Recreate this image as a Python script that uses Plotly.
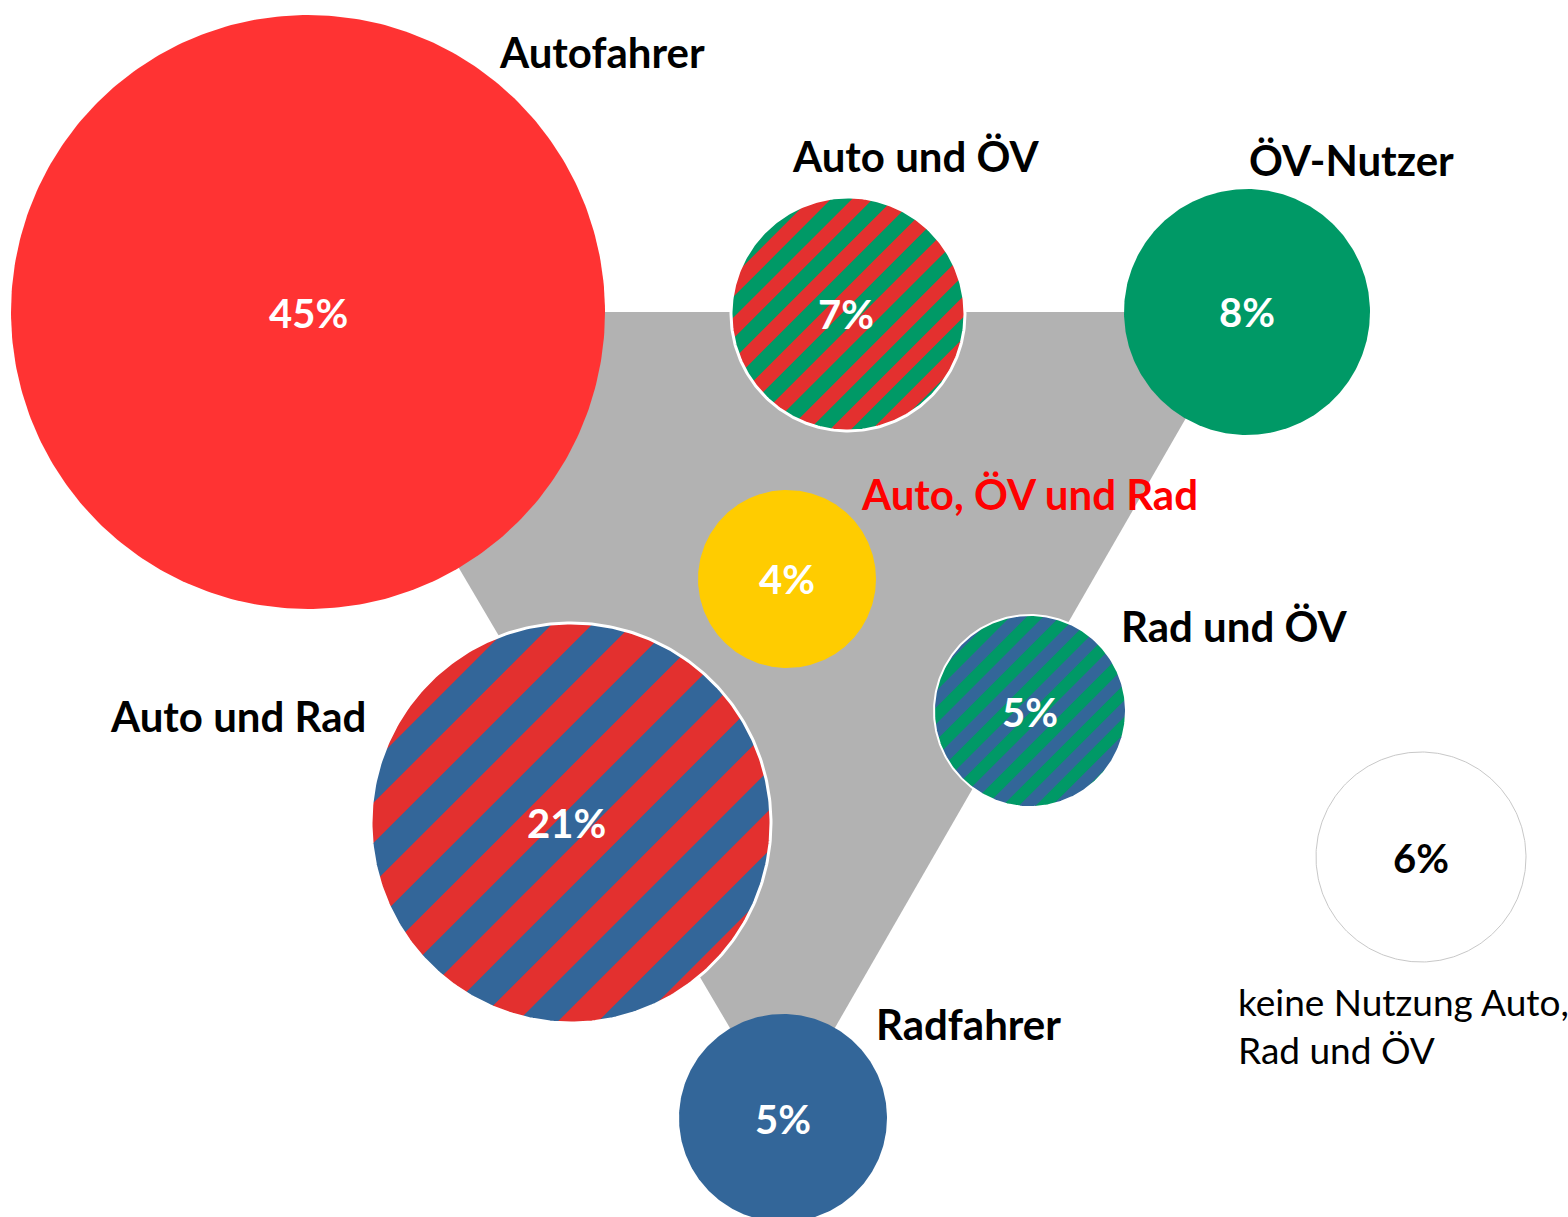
import numpy as np
import plotly.graph_objects as go

# ---------------- data ----------------
categories = ["Autofahrer", "ÖV-Nutzer", "Radfahrer", "Auto und ÖV",
              "Auto und Rad", "Rad und ÖV", "Auto, ÖV und Rad",
              "keine Nutzung Auto,<br>Rad und ÖV"]
values = [45, 8, 5, 7, 21, 5, 4, 6]
pct_labels = [f"{v}%" for v in values]

# ---------------- layout (pixel space) ----------------
W, H = 1568, 1217
cx = [308, 1247, 783, 848, 571, 1030, 787, 1421]
cy = [312, 312, 1118, 314, 823, 711, 579, 857]
radii = [297, 123, 104, 117, 200, 96, 89, 105]
base_colors = ["#FF3333", "#009966", "#336699", "#009966",
               "#336699", "#336699", "#FFCC00", "#FFFFFF"]
stripe_colors = [None, None, None, "#E3302F", "#E3302F", "#009966", None, None]
stripe_periods = [None, None, None, 29.5, 57, 23.3, None, None]
stripe_phase = [0, 0, 0, 10, 17, 1, 0, 0]
outline = [None, None, None, "#FFFFFF", "#FFFFFF", "#FFFFFF", None, "#C8C8C8"]
outline_w = [0, 0, 0, 3, 3, 2, 0, 1]
pct_colors = ["white"] * 7 + ["black"]
pct_dx = [0, 0, 0, -2, -5, 0, 0, 0]
pct_dy = [1, 0, 1, 0, 0, 1, 0, 1]

label_x = [602, 1351, 968, 916, 238, 1234, 1029, 1236]
label_y = [52, 160, 1024, 156, 716, 626, 494, 1025]
label_colors = ["black", "black", "black", "black", "black", "black", "#FF0000", "black"]
label_anchor = ["center"] * 7 + ["left"]
label_bold = [True] * 7 + [False]

FONT = "Lato"

fig = go.Figure()

# triangle connecting the three single-mode circles
tri_x = [cx[0], cx[1], cx[2], cx[0]]
tri_y = [cy[0], cy[1], cy[2], cy[0]]
fig.add_trace(go.Scatter(x=tri_x, y=tri_y, fill="toself", fillcolor="#B2B2B2",
                         mode="lines", line=dict(width=0), hoverinfo="skip"))

theta = np.linspace(0, 2 * np.pi, 361)


def stripe_polys(x0, y0, r, p, ph):
    xs, ys = [], []
    s2 = np.sqrt(2)
    k0 = int(np.floor(-r / p)) - 2
    k1 = int(np.ceil(r / p)) + 2
    for k in range(k0, k1):
        a = ph + k * p
        b = a + p / 2
        a, b = max(a, -r), min(b, r)
        if b <= a:
            continue
        us = np.linspace(a, b, 40)
        vs = np.sqrt(np.maximum(r * r - us * us, 0))
        u_all = np.concatenate([us, us[::-1]])
        v_all = np.concatenate([vs, -vs[::-1]])
        px = x0 + (u_all + v_all) / s2
        py = y0 + (u_all - v_all) / s2
        xs += list(px) + [px[0], None]
        ys += list(py) + [py[0], None]
    return xs, ys


for i in range(len(values)):
    r = radii[i]
    x = cx[i] + r * np.cos(theta)
    y = cy[i] + r * np.sin(theta)
    fig.add_trace(go.Scatter(x=x, y=y, fill="toself", fillcolor=base_colors[i],
                             mode="lines", line=dict(width=0), hoverinfo="skip"))
    if stripe_colors[i]:
        sx, sy = stripe_polys(cx[i], cy[i], r, stripe_periods[i], stripe_phase[i])
        fig.add_trace(go.Scatter(x=sx, y=sy, fill="toself", fillcolor=stripe_colors[i],
                                 mode="lines", line=dict(width=0), hoverinfo="skip"))
    if outline[i]:
        fig.add_trace(go.Scatter(x=x, y=y, mode="lines",
                                 line=dict(width=outline_w[i], color=outline[i]),
                                 hoverinfo="skip"))

annotations = []
for i in range(len(values)):
    annotations.append(dict(x=cx[i] + pct_dx[i], y=cy[i] + pct_dy[i], text=pct_labels[i],
                            showarrow=False, xanchor="center", yanchor="middle",
                            font=dict(family=FONT, size=40, color=pct_colors[i], weight="bold")))
    annotations.append(dict(x=label_x[i], y=label_y[i], text=categories[i], showarrow=False,
                            xanchor=label_anchor[i], yanchor="middle", align="left",
                            font=dict(family=FONT, size=42 if label_bold[i] else 37,
                                      color=label_colors[i],
                                      weight="bold" if label_bold[i] else "normal")))

fig.update_layout(
    width=W, height=H, margin=dict(l=0, r=0, t=0, b=0),
    paper_bgcolor="white", plot_bgcolor="white", showlegend=False,
    xaxis=dict(range=[0, W], visible=False, fixedrange=True),
    yaxis=dict(range=[H, 0], visible=False, fixedrange=True),
    annotations=annotations,
)

fig.write_html("out.html", config={"displayModeBar": False},
               post_script="document.body.style.margin='0';document.body.style.overflow='hidden';")
